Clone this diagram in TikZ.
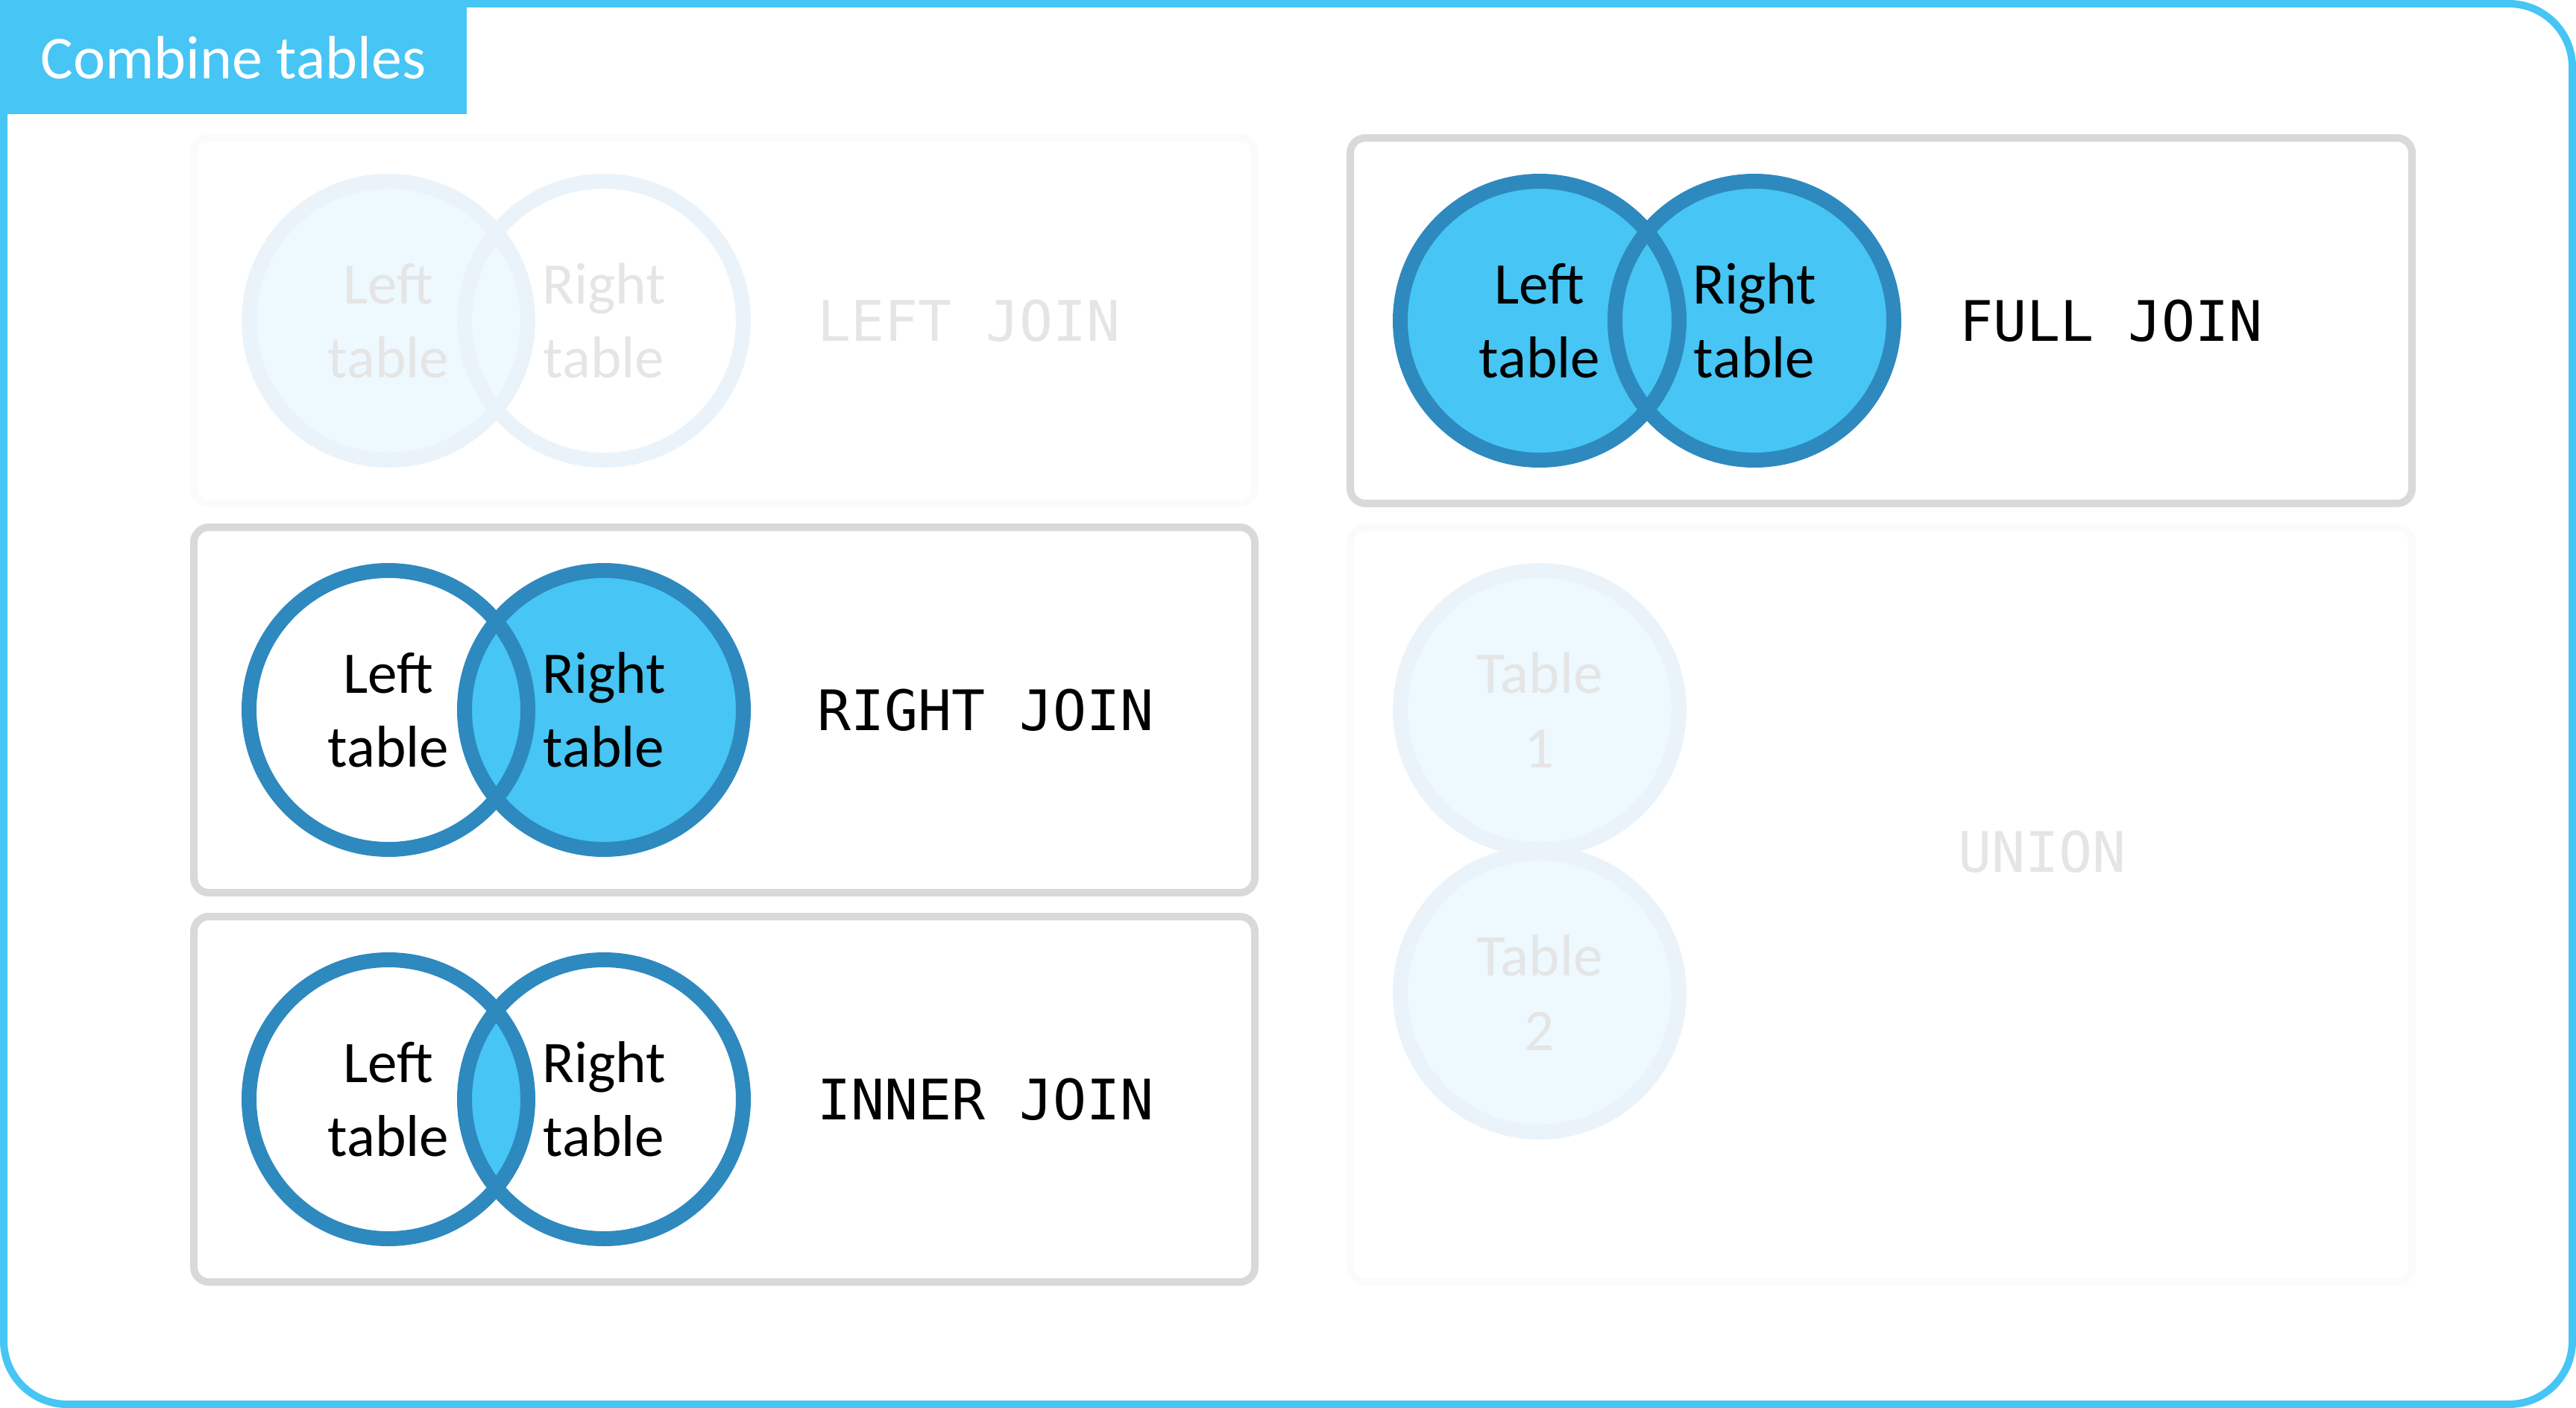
\documentclass[tikz,border=0pt]{standalone}
\usepackage{fontspec}
\setmainfont{Carlito}
\setmonofont{DejaVu Sans Mono}
\usetikzlibrary{positioning,backgrounds}
\definecolor{cSky}{HTML}{47C5F4}
\definecolor{cRing}{HTML}{2E89BF}
\definecolor{cEdge}{HTML}{D9D9D9}

\begin{document}
\begin{tikzpicture}[
      panel/.style={draw=cEdge,line width=1mm,rounded corners=2mm},
      venn/.style={circle,draw=cRing,line width=2mm,minimum size=37.4mm,inner sep=0pt,
                   align=center,font=\fontsize{22.5}{28.2}\selectfont},
      dimvenn/.style={venn,draw=cRing!10,text=black!10},
      sql/.style={anchor=west,inner sep=0pt,font=\ttfamily\fontsize{21.3}{26}\selectfont}]
    \useasboundingbox (0,0) rectangle (34.55,-18.88);
    \draw[cSky,line width=1mm,rounded corners=8.5mm] (0.05,-0.05) rectangle (34.50,-18.83);
    \fill[cSky] (0,0) rectangle (6.26,-1.53);
    \node[text=white,font=\fontsize{23.3}{28}\selectfont] (title) at (3.13,-0.77) {Combine tables};

    % left column
    \draw[panel,draw=cEdge!10] (2.60,-1.85) rectangle (16.83,-6.75);
    \node[dimvenn] (ljL) at (5.21,-4.30) {Left\\table};
    \node[dimvenn] (ljR) at (8.10,-4.30) {Right\\table};
    \node[sql,text=black!10] (lj) at (10.96,-4.30) {LEFT JOIN};

    \draw[panel] (2.60,-7.07) rectangle (16.83,-11.97);
    \node[venn] (rjL) at (5.21,-9.52) {Left\\table};
    \node[venn] (rjR) at (8.10,-9.52) {Right\\table};
    \node[sql] (rj) at (10.96,-9.52) {RIGHT JOIN};

    \draw[panel] (2.60,-12.29) rectangle (16.83,-17.19);
    \node[venn] (ijL) at (5.21,-14.74) {Left\\table};
    \node[venn] (ijR) at (8.10,-14.74) {Right\\table};
    \node[sql] (ij) at (10.96,-14.74) {INNER JOIN};

    % right column
    \draw[panel] (18.11,-1.85) rectangle (32.35,-6.75);
    \node[venn] (fjL) at (20.65,-4.30) {Left\\table};
    \node[venn] (fjR) at (23.53,-4.30) {Right\\table};
    \node[sql] (fj) at (26.28,-4.30) {FULL JOIN};

    \draw[panel,draw=cEdge!10] (18.11,-7.07) rectangle (32.35,-17.19);
    \node[dimvenn] (unA) at (20.65,-9.52) {Table\\1};
    \node[dimvenn] (unB) at (20.65,-13.31) {Table\\2};
    \node[sql,text=black!10] (un) at (26.26,-11.42) {UNION};

    \begin{scope}[on background layer]
      \fill[cSky!10] (ljL.center) circle (1.87);
      \fill[cSky] (rjR.center) circle (1.87);
      \begin{scope}
        \clip (ijL.center) circle (1.87);
        \fill[cSky] (ijR.center) circle (1.87);
      \end{scope}
      \fill[cSky] (fjL.center) circle (1.87) (fjR.center) circle (1.87);
      \fill[cSky!10] (unA.center) circle (1.87) (unB.center) circle (1.87);
    \end{scope}
  \end{tikzpicture}
\end{document}
